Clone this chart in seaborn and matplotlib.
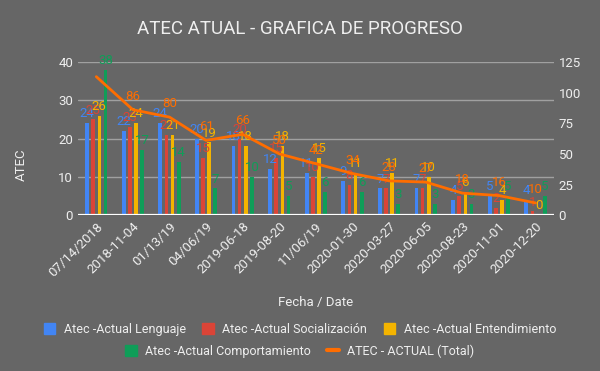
import numpy as np
import pandas as pd
import matplotlib
matplotlib.use("Agg")
import matplotlib.pyplot as plt
import seaborn as sns
from matplotlib.patches import Patch
from matplotlib.lines import Line2D

# datos
fechas = ['07/14/2018', '2018-11-04', '01/13/19', '04/06/19', '2019-06-18',
          '2019-08-20', '11/06/19', '2020-01-30', '2020-03-27', '2020-06-05',
          '2020-08-23', '2020-11-01', '2020-12-20']
lenguaje = [24, 22, 24, 20, 18, 12, 11, 9, 7, 7, 4, 5, 4]
socializacion = [25, 23, 21, 15, 20, 15, 10, 8, 7, 7, 5, 2, 1]
entendimiento = [26, 24, 21, 19, 18, 18, 15, 11, 11, 10, 6, 4, 0]
comportamiento = [38, 17, 14, 7, 10, 5, 6, 6, 3, 3, 3, 5, 5]
total = [113, 86, 80, 61, 66, 50, 42, 34, 28, 27, 18, 16, 10]

series = ['Atec -Actual Lenguaje', 'Atec -Actual Socialización',
          'Atec -Actual Entendimiento', 'Atec -Actual Comportamiento']
colores = ['#4285f4', '#db4437', '#f4b400', '#0f9d58']
naranja = '#ff6d00'
bg = '#666666'
txt = '#eeeeee'

df = pd.DataFrame({'fecha': fechas,
                   series[0]: lenguaje,
                   series[1]: socializacion,
                   series[2]: entendimiento,
                   series[3]: comportamiento})
largo = df.melt(id_vars='fecha', var_name='serie', value_name='valor')

sns.set_style("white")
plt.rcParams['font.family'] = ['Roboto', 'DejaVu Sans']

fig = plt.figure(figsize=(6, 3.71), dpi=100)
fig.patch.set_facecolor(bg)
ax = fig.add_axes([0.13, 0.42, 0.793, 0.413])
ax.set_facecolor(bg)

sns.barplot(data=largo, x='fecha', y='valor', hue='serie', order=fechas,
            hue_order=series, palette=colores, saturation=1, width=0.67,
            gap=0.4, legend=False, linewidth=0, edgecolor='none', ax=ax)

for cont, c in zip(ax.containers, colores):
    ax.bar_label(cont, color=c, fontsize=9.5, padding=2)

ax2 = ax.twinx()
sns.lineplot(x=np.arange(len(fechas)), y=total, color=naranja, lw=2, ax=ax2)
for i, v in enumerate(total):
    if i == 0:
        continue
    ax2.annotate(str(v), (i, v), xytext=(0, 5), textcoords='offset points',
                 ha='center', va='bottom', color=naranja, fontsize=9.5)

ax.set_xlim(-0.5, len(fechas) - 0.5)
ax.set_ylim(0, 40)
ax.set_yticks([0, 10, 20, 30, 40])
ax2.set_ylim(0, 125)
ax2.set_yticks([0, 25, 50, 75, 100, 125])

ax.yaxis.grid(True, color='#a0a0a0', lw=1)
ax.set_axisbelow(True)
ax.axhline(0, color='white', lw=1.6)
ax2.grid(False)
for a in (ax, ax2):
    for s in a.spines.values():
        s.set_visible(False)
    a.tick_params(length=0, colors=txt, labelsize=9.5)
ax2.patch.set_visible(False)

plt.setp(ax.get_xticklabels(), rotation=45, ha='right', rotation_mode='anchor')
ax.set_xlabel('Fecha / Date', color=txt, fontsize=9.5, labelpad=12)
ax.set_ylabel('ATEC', color=txt, fontsize=9.5)
ax.yaxis.set_label_coords(-0.105, 0.33)

fig.suptitle('ATEC ATUAL - GRAFICA DE PROGRESO', color=txt, fontsize=13.5, y=0.945)

h1 = [Patch(color=c, label=s) for c, s in zip(colores[:3], series[:3])]
h2 = [Patch(color=colores[3], label=series[3]),
      Line2D([], [], color=naranja, lw=3, label='ATEC - ACTUAL (Total)')]
for hs, y in ((h1, 0.112), (h2, 0.054)):
    fig.legend(handles=hs, loc='center', bbox_to_anchor=(0.5, y), ncol=len(hs),
               frameon=False, fontsize=9, labelcolor=txt, handlelength=0.9,
               handleheight=1.0, handletextpad=0.7, columnspacing=1.3)

fig.savefig('out.png', dpi=100, facecolor=bg)
